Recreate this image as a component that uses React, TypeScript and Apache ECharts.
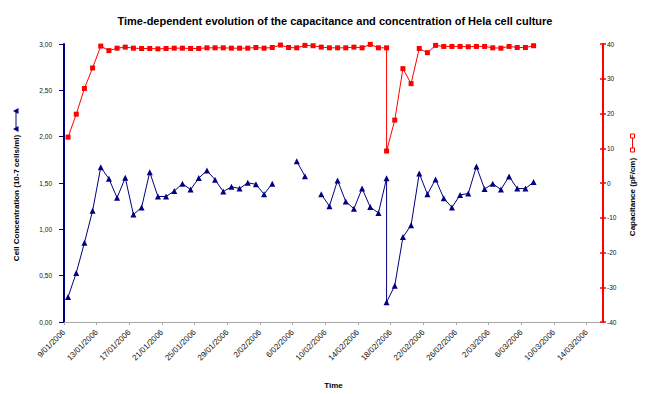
import React, { useEffect, useRef } from 'react';
import * as echarts from 'echarts';

const START = Date.UTC(2006, 0, 9);
const AXIS_MAX_DAYS = 66;

// measurement dates (17/02 measured twice)
const dates = [
  '2006-01-09', '2006-01-10', '2006-01-11', '2006-01-12', '2006-01-13', '2006-01-14', '2006-01-15', '2006-01-16',
  '2006-01-17', '2006-01-18', '2006-01-19', '2006-01-20', '2006-01-21', '2006-01-22', '2006-01-23', '2006-01-24',
  '2006-01-25', '2006-01-26', '2006-01-27', '2006-01-28', '2006-01-29', '2006-01-30', '2006-01-31',
  '2006-02-01', '2006-02-02', '2006-02-03', '2006-02-04', '2006-02-05', '2006-02-06', '2006-02-07', '2006-02-08',
  '2006-02-09', '2006-02-10', '2006-02-11', '2006-02-12', '2006-02-13', '2006-02-14', '2006-02-15', '2006-02-16',
  '2006-02-17', '2006-02-17', '2006-02-18', '2006-02-19', '2006-02-20', '2006-02-21', '2006-02-22', '2006-02-23',
  '2006-02-24', '2006-02-25', '2006-02-26', '2006-02-27', '2006-02-28',
  '2006-03-01', '2006-03-02', '2006-03-03', '2006-03-04', '2006-03-05', '2006-03-06', '2006-03-07',
];

// Cell concentration (10-7 cells/ml), left axis
const concentration: (number | null)[] = [
  0.27, 0.53, 0.855, 1.2, 1.67, 1.546, 1.34, 1.557,
  1.16, 1.236, 1.617, 1.354, 1.354, 1.414, 1.493, 1.429,
  1.553, 1.635, 1.535, 1.407, 1.46, 1.44, 1.503,
  1.486, 1.379, 1.493, null, null, 1.735, 1.574, null,
  1.379, 1.25, 1.528, 1.3, 1.222, 1.44, 1.24, 1.176,
  1.55, 0.214, 0.392, 0.916, 1.044, 1.603, 1.379, 1.539,
  1.336, 1.236, 1.371, 1.386, 1.678,
  1.435, 1.493, 1.429, 1.571, 1.44, 1.44, 1.51,
];

// Capacitance (pF/cm), right axis
const capacitance: number[] = [
  13.2, 19.8, 27.2, 33.1, 39.4, 38.1, 38.8, 39.1,
  38.8, 38.7, 38.7, 38.6, 38.7, 38.8, 38.8, 38.7,
  38.7, 38.9, 38.9, 38.9, 38.8, 38.8, 38.8,
  39.0, 38.8, 39.0, 39.7, 39.0, 38.9, 39.6, 39.5,
  39.1, 38.9, 38.9, 38.9, 39.1, 38.9, 39.9, 38.9,
  38.9, 9.2, 18.1, 32.9, 28.6, 38.7, 37.5, 39.6,
  39.3, 39.3, 39.3, 39.2, 39.3,
  39.3, 38.9, 38.8, 39.3, 39.0, 39.0, 39.5,
];

const TITLE = 'Time-dependent evolution of the capacitance and concentration of Hela cell culture';
const LEFT_NAME = 'Cell Concentration (10-7 cells/ml)';
const RIGHT_NAME = 'Capacitance (pF/cm)';
const X_NAME = 'Time';

const FONT = '"Liberation Sans", Arial, sans-serif';
const NAVY = '#000080';
const RED = '#FF0000';

// Excel date axis centres each point within its day
const dayPos = (d: string) => (Date.parse(d + 'T00:00:00Z') - START) / 86400000 + 0.5;

const fmtDate = (v: number) => {
  const d = new Date(START + Math.round(v) * 86400000);
  return `${d.getUTCDate()}/${String(d.getUTCMonth() + 1).padStart(2, '0')}/${d.getUTCFullYear()}`;
};

export default function App() {
  const ref = useRef<HTMLDivElement>(null);
  useEffect(() => {
    if (!ref.current) return;
    const chart = echarts.init(ref.current, undefined, { renderer: 'svg' });
    const concData = dates.map((d, i) => [dayPos(d), concentration[i] == null ? '-' : concentration[i]]);
    const capData = dates.map((d, i) => [dayPos(d), capacitance[i]]);

    chart.setOption({
      animation: false,
      backgroundColor: '#ffffff',
      textStyle: { fontFamily: FONT },
      title: {
        text: TITLE,
        left: 330,
        top: 10,
        textAlign: 'center',
        textStyle: { fontFamily: FONT, fontWeight: 'bold', fontSize: 11, color: '#000' },
      },
      grid: { left: 64, right: 69, top: 44, bottom: 69, containLabel: false },
      xAxis: {
        type: 'value',
        min: 0,
        max: AXIS_MAX_DAYS,
        interval: 4,
        name: X_NAME,
        nameLocation: 'middle',
        nameGap: 59,
        nameTextStyle: { fontFamily: FONT, fontWeight: 'bold', fontSize: 8, color: '#000' },
        axisLine: { lineStyle: { color: '#a8a8a8', width: 1 } },
        axisTick: { show: true, length: 3, lineStyle: { color: '#a8a8a8' } },
        splitLine: { show: false },
        axisLabel: {
          rotate: 45,
          fontSize: 8,
          color: '#111',
          fontFamily: FONT,
          margin: 9,
          showMaxLabel: false,
          formatter: (v: number) => fmtDate(v),
        },
      },
      yAxis: [
        {
          type: 'value',
          position: 'left',
          min: 0,
          max: 3,
          interval: 0.5,
          axisLine: { show: true, lineStyle: { color: NAVY, width: 2 } },
          axisTick: { show: true, length: 5, lineStyle: { color: NAVY } },
          splitLine: { show: false },
          axisLabel: {
            fontSize: 6.5,
            color: '#111',
            fontFamily: FONT,
            margin: 12,
            formatter: (v: number) => v.toFixed(2).replace('.', ','),
          },
        },
        {
          type: 'value',
          position: 'right',
          min: -40,
          max: 40,
          interval: 10,
          axisLine: { show: true, lineStyle: { color: RED, width: 2 } },
          axisTick: { show: true, length: 3, lineStyle: { color: RED, width: 1.5 } },
          splitLine: { show: false },
          axisLabel: { fontSize: 6.5, color: '#111', fontFamily: FONT, margin: 4 },
        },
        {
          type: 'value',
          position: 'right',
          min: -40,
          max: 40,
          interval: 10,
          axisLine: { show: false },
          axisTick: { show: true, inside: true, length: 3, lineStyle: { color: RED, width: 1.5 } },
          splitLine: { show: false },
          axisLabel: { show: false },
        },
      ],
      series: [
        {
          name: LEFT_NAME,
          type: 'line',
          yAxisIndex: 0,
          data: concData,
          connectNulls: false,
          symbol: 'triangle',
          symbolSize: 6,
          itemStyle: { color: NAVY },
          lineStyle: { color: NAVY, width: 1 },
          z: 2,
        },
        {
          name: RIGHT_NAME,
          type: 'line',
          yAxisIndex: 1,
          data: capData,
          symbol: 'rect',
          symbolSize: 5,
          itemStyle: { color: RED },
          lineStyle: { color: RED, width: 1 },
          z: 3,
        },
      ],
      graphic: [
        {
          type: 'text',
          x: 16,
          y: 198,
          rotation: Math.PI / 2,
          style: {
            text: LEFT_NAME,
            font: `bold 8px ${FONT}`,
            fill: '#000',
            align: 'center',
            verticalAlign: 'middle',
          },
        },
        {
          type: 'group',
          x: 16,
          y: 120,
          rotation: Math.PI / 2,
          children: [
            { type: 'line', shape: { x1: -9, y1: 0, x2: 9, y2: 0 }, style: { stroke: NAVY, lineWidth: 1 } },
            { type: 'polygon', shape: { points: [[-12, 2.5], [-6, 2.5], [-9, -3]] }, style: { fill: NAVY } },
            { type: 'polygon', shape: { points: [[6, 2.5], [12, 2.5], [9, -3]] }, style: { fill: NAVY } },
          ],
        },
        {
          type: 'text',
          x: 632.5,
          y: 197,
          rotation: Math.PI / 2,
          style: {
            text: RIGHT_NAME,
            font: `bold 8px ${FONT}`,
            fill: '#000',
            align: 'center',
            verticalAlign: 'middle',
          },
        },
        {
          type: 'group',
          x: 632.5,
          y: 143,
          children: [
            { type: 'line', shape: { x1: 0, y1: -7, x2: 0, y2: 7 }, style: { stroke: RED, lineWidth: 1 } },
            { type: 'rect', shape: { x: -2, y: -9, width: 4, height: 4 }, style: { fill: '#fff', stroke: RED, lineWidth: 1 } },
            { type: 'rect', shape: { x: -2, y: 5, width: 4, height: 4 }, style: { fill: '#fff', stroke: RED, lineWidth: 1 } },
          ],
        },
      ],
    });
    return () => chart.dispose();
  }, []);
  return (
    <div
      ref={ref}
      style={{ position: 'fixed', left: 0, top: 0, width: 672, height: 394, background: '#fff' }}
    />
  );
}
